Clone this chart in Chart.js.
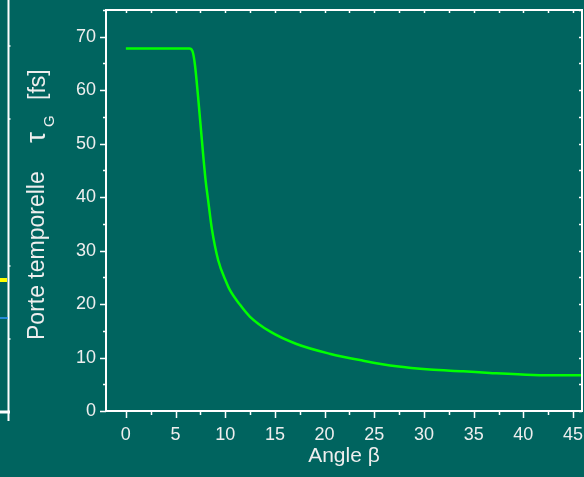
<!DOCTYPE html>
<html>
<head>
<meta charset="utf-8">
<script src="https://cdn.jsdelivr.net/npm/chart.js@4"></script>
<style>
  html, body { margin: 0; padding: 0; background: #00645f; }
  #wrap { width: 584px; height: 477px; }
</style>
</head>
<body>
<div id="wrap"><canvas id="gate-chart" width="584" height="477"></canvas></div>
<script>
'use strict';

// angle beta (deg) and gate width tau_G (fs)
const betaValues = [0, 6.4, 6.7, 6.94, 7.27, 7.65, 8.02, 8.28, 8.65, 9.29, 10.13, 10.46, 11.47, 12.47, 14.49, 17.17, 20.5, 23.88, 27.23, 30.58, 33.94, 36.62, 41, 46];
const tauValues = [67.8, 67.8, 67.3, 64.9, 58.7, 50.6, 43.2, 39.4, 34.1, 28.2, 24, 22.65, 19.9, 17.67, 14.88, 12.53, 10.72, 9.41, 8.35, 7.74, 7.42, 7.12, 6.75, 6.67];
const xTickLabels = ['0', '5', '10', '15', '20', '25', '30', '35', '40', '45'];
const yTickLabels = ['0', '10', '20', '30', '40', '50', '60', '70'];

const bg = '#00645f';
const ink = '#eeeeee';
const font = '"Liberation Sans", Arial, sans-serif';

const points = [];
for (let i = 0; i < betaValues.length; i++) {
  points.push({ x: betaValues[i], y: tauValues[i] });
}

// background + the bits of the neighbour figure on the left edge
const backdrop = {
  id: 'backdrop',
  beforeDraw(chart) {
    const ctx = chart.ctx;
    ctx.save();
    ctx.fillStyle = bg;
    ctx.fillRect(0, 0, chart.width, chart.height);
    ctx.strokeStyle = '#ffffff';
    ctx.lineWidth = 2;
    ctx.beginPath();
    ctx.moveTo(8.5, 0);
    ctx.lineTo(8.5, 421);
    ctx.stroke();
    ctx.lineWidth = 3;
    ctx.beginPath();
    ctx.moveTo(0, 412);
    ctx.lineTo(10, 412);
    ctx.stroke();
    ctx.lineWidth = 1.5;
    [46, 119, 266, 339].forEach(function (yy) {
      ctx.beginPath();
      ctx.moveTo(8, yy);
      ctx.lineTo(10.5, yy);
      ctx.stroke();
    });
    ctx.fillStyle = '#ffff00';
    ctx.fillRect(0, 278, 7, 4);
    ctx.strokeStyle = '#3399ff';
    ctx.lineWidth = 1.5;
    ctx.beginPath();
    ctx.moveTo(0, 318);
    ctx.lineTo(8, 318);
    ctx.stroke();
    ctx.restore();
  }
};

// box around the plot, with major + minor ticks on every side
const frame = {
  id: 'frame',
  afterDraw(chart) {
    const { ctx, chartArea: a, scales } = chart;
    const x = scales.x;
    const y = scales.y;
    ctx.save();
    ctx.strokeStyle = '#ffffff';
    ctx.lineWidth = 2;
    ctx.strokeRect(a.left, a.top, a.right - a.left, a.bottom - a.top);
    ctx.lineWidth = 1.5;
    ctx.beginPath();
    for (let v = 0; v <= 45; v += 2.5) {
      const px = Math.round(x.getPixelForValue(v)) + 0.5;
      const major = v % 5 === 0;
      ctx.moveTo(px, a.bottom);
      ctx.lineTo(px, a.bottom + (major ? 7 : 4));
      ctx.moveTo(px, a.top);
      ctx.lineTo(px, a.top + 3);
    }
    for (let v = 0; v <= 75; v += 5) {
      const py = Math.round(y.getPixelForValue(v)) + 0.5;
      const major = v % 10 === 0;
      ctx.moveTo(a.left, py);
      ctx.lineTo(a.left - (major ? 6 : 3), py);
      ctx.moveTo(a.right, py);
      ctx.lineTo(a.right - 3, py);
    }
    ctx.stroke();

    // y title with subscript
    ctx.fillStyle = ink;
    ctx.translate(44, 340);
    ctx.rotate(-Math.PI / 2);
    ctx.textBaseline = 'alphabetic';
    ctx.textAlign = 'left';
    ctx.font = '23px ' + font;
    ctx.fillText('Porte temporelle', 0, 0);
    ctx.font = '28px ' + font;
    ctx.fillText('τ', 197, 1);
    ctx.font = '15px ' + font;
    ctx.fillText('G', 213, 10);
    ctx.font = '23px ' + font;
    ctx.fillText('[fs]', 240, 1);
    ctx.restore();
  }
};

const ctx = document.getElementById('gate-chart').getContext('2d');

const gateChart = new Chart(ctx, {
  type: 'scatter',
  data: {
    datasets: [{
      label: 'tau_G',
      data: points,
      showLine: true,
      borderColor: '#00ff00',
      borderWidth: 2.5,
      pointRadius: 0,
      cubicInterpolationMode: 'monotone',
      fill: false,
    }],
  },
  options: {
    responsive: false,
    animation: false,
    events: [],
    layout: { padding: { top: 10, right: 2, left: 0, bottom: 0 } },
    plugins: {
      legend: { display: false },
      tooltip: { enabled: false },
    },
    scales: {
      x: {
        type: 'linear',
        min: -2,
        max: 45.9,
        afterFit(scale) {
          scale.height = 66;
          scale.paddingLeft = 0;
          scale.paddingRight = 0;
        },
        grid: { drawOnChartArea: false, tickLength: 7, tickColor: 'transparent' },
        border: { display: false },
        ticks: {
          stepSize: 5,
          includeBounds: false,
          maxRotation: 0,
          autoSkip: false,
          padding: 6,
          color: ink,
          font: { family: font, size: 18 },
          callback: function (value) {
            const label = String(value);
            return xTickLabels.includes(label) ? label : '';
          },
        },
        title: {
          display: true,
          text: 'Angle β',
          color: ink,
          font: { family: font, size: 21 },
          padding: { top: 0, bottom: 8 },
        },
      },
      y: {
        type: 'linear',
        min: 0,
        max: 75,
        afterFit(scale) {
          scale.width = 106;
          scale.paddingTop = 0;
          scale.paddingBottom = 0;
        },
        grid: { drawOnChartArea: false, tickLength: 6, tickColor: 'transparent' },
        border: { display: false },
        ticks: {
          stepSize: 10,
          includeBounds: false,
          padding: 4,
          color: ink,
          font: { family: font, size: 18 },
          callback: function (value) {
            const label = String(value);
            return yTickLabels.includes(label) ? label : '';
          },
        },
      },
    },
  },
  plugins: [backdrop, frame],
});
</script>
</body>
</html>
